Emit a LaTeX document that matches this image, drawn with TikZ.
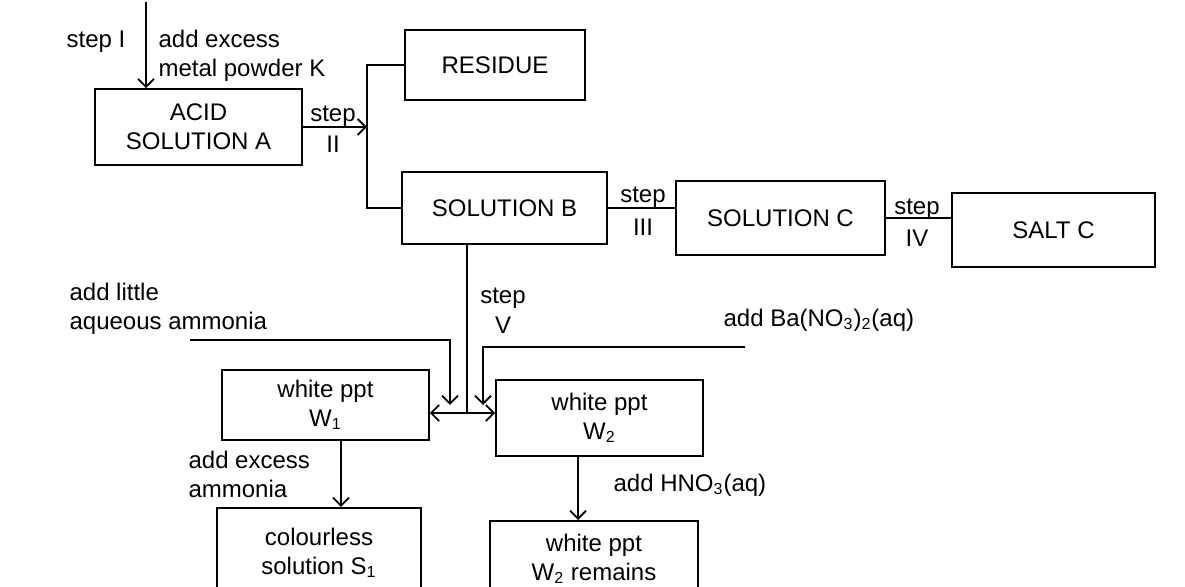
\documentclass[tikz,border=0pt]{standalone}
\usepackage{fontspec}
\setmainfont{Liberation Sans}
\usetikzlibrary{arrows.meta}
\begin{document}
\begin{tikzpicture}[x=0.5pt,y=-0.5pt,line width=0.9pt,
    font=\fontsize{12}{14.5}\selectfont,
    box/.style={draw,rectangle,align=center,inner sep=0pt},
    arr/.style={-{Straight Barb[length=4pt,width=8pt]}}]
    \useasboundingbox (0,0) rectangle (1185,587);
    \clip (0,0) rectangle (1185,587);
    \node[box,minimum width=103.5pt,minimum height=38pt] (acid) at (198.5,127) {ACID\\SOLUTION A};
    \node[box,minimum width=90pt,minimum height=35pt] (residue) at (495,65) {RESIDUE};
    \node[box,minimum width=102.5pt,minimum height=36pt] (solB) at (504.5,208) {SOLUTION B};
    \node[box,minimum width=104.5pt,minimum height=37pt] (solC) at (780.5,218) {SOLUTION C};
    \node[box,minimum width=101.5pt,minimum height=37pt] (saltC) at (1053.5,230) {SALT C};
    \node[box,minimum width=103.5pt,minimum height=35pt] (wOne) at (325.5,405) {white ppt\\W\textsubscript{1}};
    \node[box,minimum width=103.5pt,minimum height=38pt] (wTwo) at (599.5,418) {white ppt\\W\textsubscript{2}};
    \node[box,anchor=north,minimum width=102pt,minimum height=45pt] (sOne) at (319,507) {colourless\\solution S\textsubscript{1}};
    \node[box,anchor=north,minimum width=104pt,minimum height=38pt] (wTwoR) at (594,520) {white ppt\\W\textsubscript{2} remains};

    \coordinate (metalK) at (146,2);
    \coordinate (jTwo) at (367,127);
    \coordinate (jFive) at (467,413);
    \coordinate (ammonia) at (190,340);
    \coordinate (ammoniaEnd) at (450,405);
    \coordinate (baNO) at (745,347);
    \coordinate (baNOEnd) at (483,405);

    \draw[arr] (metalK) -- (metalK |- acid.north);
    \draw[arr] (acid.east) -- (jTwo);
    \draw (residue.west) -| (jTwo) |- (solB.west);
    \draw (solB.east) -- (solB.east -| solC.west);
    \draw (solC.east) -- (solC.east -| saltC.west);
    \draw (solB.south -| jFive) -- (jFive);
    \draw[arr] (jFive) -- (jFive -| wOne.east);
    \draw[arr] (jFive) -- (jFive -| wTwo.west);
    \draw[arr] (ammonia) -| (ammoniaEnd);
    \draw[arr] (baNO) -| (baNOEnd);
    \draw[arr] (wOne.south -| 341,0) -- (sOne.north -| 341,0);
    \draw[arr] (wTwo.south -| 578,0) -- (wTwoR.north -| 578,0);

    \node (stepI) at (96,42) {step I};
    \node[anchor=west,align=left] (addK) at (151,56) {add excess\\metal powder K};
    \node (stepII) at (333,116) {step};
    \node (stepIIb) at (333,144) {II};
    \node (stepIII) at (643,197) {step};
    \node (stepIIIb) at (643,227) {III};
    \node (stepIV) at (917,209) {step};
    \node (stepIVb) at (917,238) {IV};
    \node (stepV) at (503,298) {step};
    \node (stepVb) at (503,325) {V};
    \node[anchor=west,align=left] (addAm) at (62,309) {add little\\aqueous ammonia};
    \node[anchor=west] (addBa) at (716,320) {add Ba(NO\textsubscript{3})\textsubscript{2}(aq)};
    \node[anchor=west,align=left] (addEx) at (181,474) {add excess\\ammonia};
    \node[anchor=west] (addHN) at (606,485) {add HNO\textsubscript{3}(aq)};
\end{tikzpicture}
\end{document}
